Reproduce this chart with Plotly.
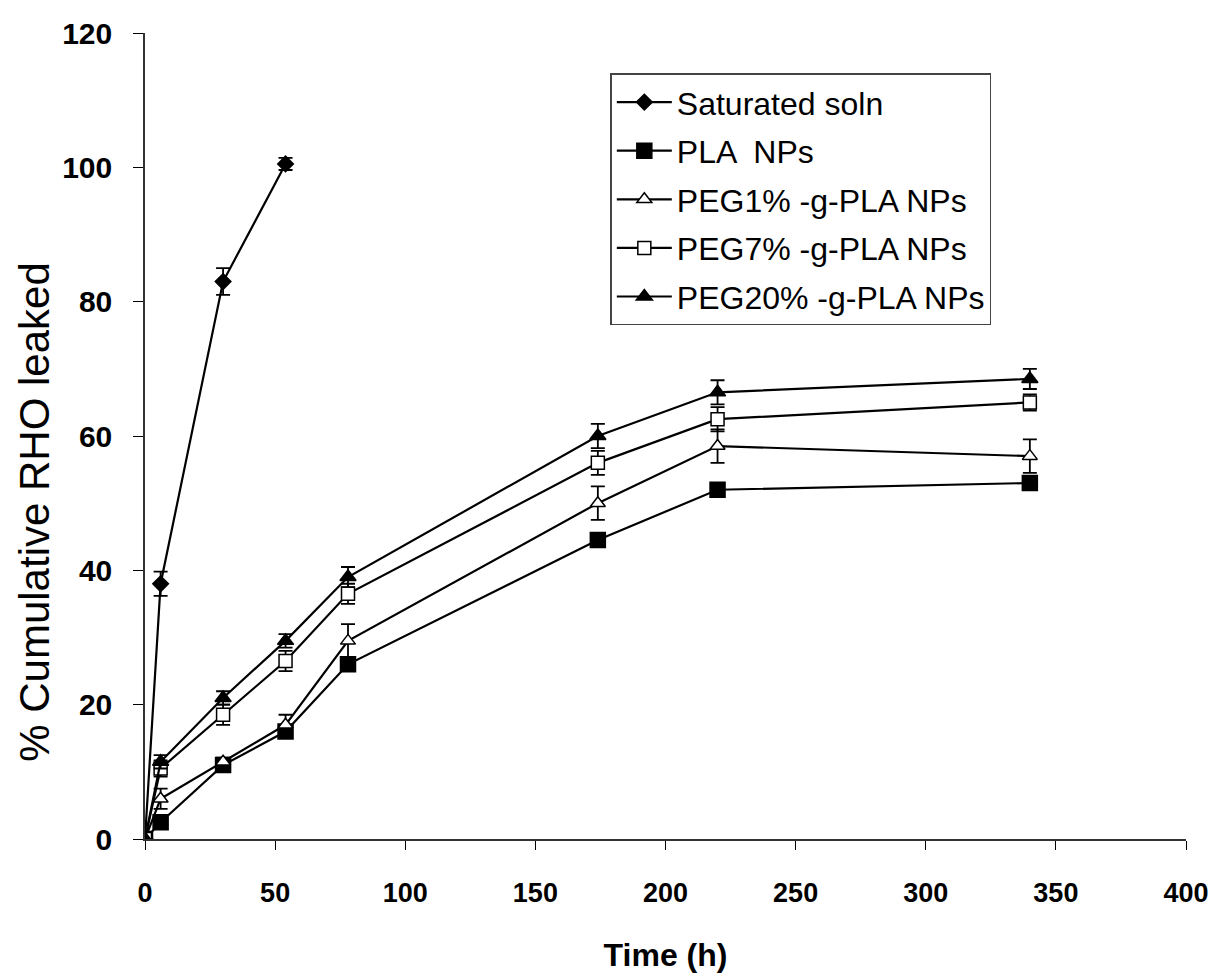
import plotly.graph_objects as go

time_sat = [0, 6, 30, 54]
sat_vals = [0, 38, 83, 100.5]
sat_err = [0, 1.8, 2.0, 0.9]

time_np = [0, 6, 30, 54, 78, 174, 220, 340]
pla_vals = [0, 2.5, 11, 16, 26, 44.5, 52, 53]
pla_err = [0, 0.8, 0.8, 0.8, 0.8, 0.6, 0.6, 0.6]
peg1_vals = [0, 6, 11.5, 17, 29.5, 50, 58.5, 57]
peg1_err = [0, 1.5, 0.6, 1.5, 2.5, 2.5, 2.5, 2.5]
peg7_vals = [0, 10.5, 18.5, 26.5, 36.5, 56, 62.5, 65]
peg7_err = [0, 1.2, 1.5, 1.5, 1.5, 1.8, 1.8, 1.2]
peg20_vals = [0, 11.5, 21, 29.5, 39, 60, 66.5, 68.5]
peg20_err = [0, 1.0, 1.0, 1.0, 1.5, 1.8, 1.8, 1.5]

names = ["Saturated soln", "PLA  NPs", "PEG1% -g-PLA NPs", "PEG7% -g-PLA NPs", "PEG20% -g-PLA NPs"]

x_ticks = [0, 50, 100, 150, 200, 250, 300, 350, 400]
y_ticks = [0, 20, 40, 60, 80, 100, 120]

fig = go.Figure()

def add(x, y, e, name, symbol, size, fill=True):
    fig.add_trace(go.Scatter(
        x=x, y=y, name=name, mode="lines+markers", legendgroup=name,
        line=dict(color="black", width=2.2),
        marker=dict(symbol=symbol, size=size,
                    color="black" if fill else "white",
                    line=dict(color="black", width=1.5)),
        error_y=dict(type="data", array=e, visible=True, color="black",
                     thickness=1.8, width=7),
    ))

add(time_sat, sat_vals, sat_err, names[0], "diamond", 12)
add(time_np, pla_vals, pla_err, names[1], "square", 15)
add(time_np, peg1_vals, peg1_err, names[2], "triangle-up", 13, fill=False)
add(time_np, peg7_vals, peg7_err, names[3], "square", 13, fill=False)
add(time_np, peg20_vals, peg20_err, names[4], "triangle-up", 14)

fig.add_annotation(
    text="% Cumulative RHO leaked", textangle=-90,
    xref="paper", yref="paper", x=0, y=0.406,
    xanchor="center", yanchor="middle", xshift=-110, showarrow=False,
    font=dict(size=42, family="Liberation Sans, Arial", color="black"),
)

fig.update_layout(
    width=1221, height=979,
    paper_bgcolor="white", plot_bgcolor="white",
    margin=dict(l=145, r=30, t=33, b=138),
    font=dict(family="Liberation Sans, Arial", color="black", size=22),
    showlegend=True,
    legend=dict(x=0.447, y=0.95, xanchor="left", yanchor="top",
                bgcolor="white", bordercolor="#444", borderwidth=1.5,
                font=dict(size=32, family="Liberation Sans, Arial"),
                tracegroupgap=4, itemwidth=55),
    xaxis=dict(range=[0, 400], tickvals=x_ticks, ticks="outside", ticklen=9,
               tickcolor="black", showline=True, linecolor="#333", linewidth=1.5,
               showgrid=False, zeroline=False, ticklabelstandoff=20,
               tickfont=dict(size=27, family="Liberation Sans, Arial", weight="bold"),
               title=dict(text="Time (h)", standoff=36,
                          font=dict(size=32, family="Liberation Sans, Arial", weight="bold"))),
    yaxis=dict(range=[0, 120], tickvals=y_ticks, ticks="outside", ticklen=10,
               tickcolor="black", showline=True, linecolor="#333", linewidth=1.5,
               showgrid=False, zeroline=False, ticklabelstandoff=15,
               tickfont=dict(size=30, weight="bold")),
)

fig.write_html("out.html", config={"displayModeBar": False},
               post_script="document.body.style.margin='0';document.body.style.overflow='hidden';")
